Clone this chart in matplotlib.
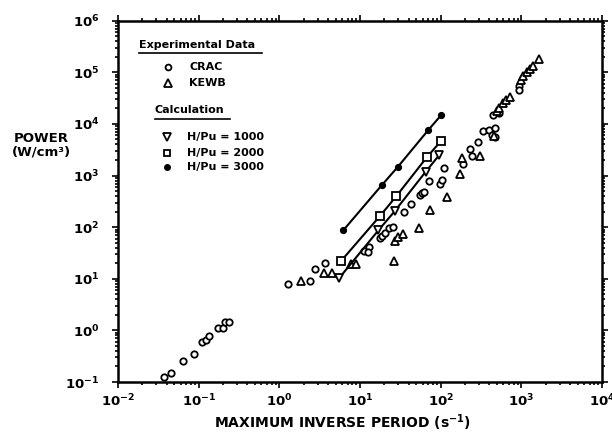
import matplotlib
matplotlib.use("Agg")
import matplotlib.pyplot as plt
from matplotlib.ticker import LogLocator, NullFormatter

plt.rcParams['font.family'] = ['DejaVu Sans']
plt.rcParams['font.weight'] = 'bold'
plt.rcParams['mathtext.default'] = 'bf'

# ---- Experimental data: CRAC (open circles) ----
crac_x = [0.0375, 0.0454, 0.0644, 0.0867, 0.111, 0.122, 0.134, 0.175, 0.202, 0.214, 0.235,
          1.28, 2.43, 2.77, 3.71, 11.2, 12.9, 12.4, 17.7, 18.7, 20.4, 22.9, 25.9,
          35.4, 42.6, 55.4, 58.7, 62.1, 72.6, 98.1, 105, 111,
          187, 228, 243, 292, 337, 397, 471, 427, 471, 449, 528, 935, 944]
crac_y = [0.126, 0.151, 0.258, 0.343, 0.585, 0.649, 0.776, 1.11, 1.12, 1.45, 1.46,
          7.8, 9.2, 15.4, 19.9, 34.4, 41.1, 33.7, 61.5, 67.3, 78.5, 96, 99,
          200, 281, 428, 458, 490, 793, 684, 836, 1416,
          1710, 3335, 2420, 4520, 7350, 7620, 8440, 6090, 5700, 14900, 16500, 54200, 45400]

# ---- Experimental data: KEWB (open triangles) ----
kewb_x = [1.88, 3.61, 4.46, 7.73, 8.85, 26.6, 27.2, 29.6, 34.4, 53.8, 73.3, 120,
          173, 184, 307, 458, 499, 536, 587, 645, 723,
          981, 1057, 1165, 1280, 1383, 1633]
kewb_y = [9.0, 12.7, 13.1, 19.5, 19.5, 22.0, 53.8, 64.3, 73.5, 94.8, 216, 383,
          1094, 2183, 2355, 5960, 17800, 20800, 25100, 29000, 33700,
          71000, 84800, 100000, 114000, 134000, 185000]

# ---- Calculations ----
h1000_x = [5.54, 16.9, 26.8, 65.2, 95.3]
h1000_y = [10.4, 86.7, 202, 1185, 2462]
h2000_x = [5.81, 17.9, 28.3, 67.7, 101]
h2000_y = [22.0, 168, 401, 2285, 4665]
h3000_x = [6.2, 18.7, 29.2, 70.3, 101]
h3000_y = [86.7, 655, 1449, 7620, 14700]

legend_exp = ["CRAC", "KEWB"]
legend_calc = ["H/Pu = 1000", "H/Pu = 2000", "H/Pu = 3000"]

fig = plt.figure(figsize=(6.12, 4.36), dpi=100)
ax = fig.add_axes([118/612, 1-382/436, 484/612, 361.3/436])
ax.set_xscale('log')
ax.set_yscale('log')
ax.set_xlim(1e-2, 1e4)
ax.set_ylim(1e-1, 1e6)

k = 'black'
ax.plot(crac_x, crac_y, 'o', ms=4.6, mfc='white', mec=k, mew=1.3, zorder=3)
ax.plot(kewb_x, kewb_y, '^', ms=5.8, mfc='white', mec=k, mew=1.3, zorder=3)
ax.plot(h1000_x, h1000_y, '-v', color=k, lw=1.5, ms=6.2, mfc='white', mec=k, mew=1.3, zorder=4)
ax.plot(h2000_x, h2000_y, '-s', color=k, lw=1.5, ms=5.3, mfc='white', mec=k, mew=1.3, zorder=4)
ax.plot(h3000_x, h3000_y, '-o', color=k, lw=1.5, ms=4.2, mfc=k, mec=k, zorder=4)

for s in ax.spines.values():
    s.set_linewidth(1.8)

ax.xaxis.set_major_locator(LogLocator(base=10, numticks=20))
ax.yaxis.set_major_locator(LogLocator(base=10, numticks=20))
ax.xaxis.set_minor_locator(LogLocator(base=10, subs=range(2, 10), numticks=20))
ax.yaxis.set_minor_locator(LogLocator(base=10, subs=range(2, 10), numticks=20))
ax.xaxis.set_minor_formatter(NullFormatter())
ax.yaxis.set_minor_formatter(NullFormatter())
ax.tick_params(which='both', direction='out', top=True, right=True, width=1.2)
ax.tick_params(which='major', length=4.5)
ax.tick_params(which='minor', length=2.5, labelbottom=False, labelleft=False)
ax.tick_params(axis='x', which='major', labelsize=9.5, pad=3)
ax.tick_params(axis='y', which='major', labelsize=9.5, pad=9)
ax.xaxis.offsetText.set_visible(False)
ax.yaxis.offsetText.set_visible(False)

fig.text(342/612, 1-423/436, 'MAXIMUM INVERSE PERIOD (s$^{-1}$)', ha='center', va='center',
         fontsize=10, fontweight='bold')
fig.text(41/612, 1-145/436, 'POWER\n(W/cm³)', ha='center', va='center',
         fontsize=9.5, fontweight='bold', linespacing=1.1)

# ---- hand-drawn legend block ----
tA = ax.transAxes
fs = 8
ax.text(0.044, 0.933, 'Experimental Data', transform=tA, fontsize=fs, fontweight='bold', va='center')
ax.plot([0.044, 0.2975], [0.911, 0.911], color=k, lw=1.2, transform=tA, clip_on=False)
ax.plot([0.104], [0.873], 'o', ms=4.2, mfc='white', mec=k, mew=1.3, transform=tA)
ax.text(0.147, 0.873, legend_exp[0], transform=tA, fontsize=fs, fontweight='bold', va='center')
ax.plot([0.104], [0.828], '^', ms=5.3, mfc='white', mec=k, mew=1.3, transform=tA)
ax.text(0.147, 0.828, legend_exp[1], transform=tA, fontsize=fs, fontweight='bold', va='center')

ax.text(0.0764, 0.753, 'Calculation', transform=tA, fontsize=fs, fontweight='bold', va='center')
ax.plot([0.0764, 0.231], [0.728, 0.728], color=k, lw=1.2, transform=tA, clip_on=False)
ax.plot([0.1006], [0.679], 'v', ms=5.5, mfc='white', mec=k, mew=1.3, transform=tA)
ax.text(0.142, 0.679, legend_calc[0], transform=tA, fontsize=fs, fontweight='bold', va='center')
ax.plot([0.1006], [0.635], 's', ms=4.8, mfc='white', mec=k, mew=1.3, transform=tA)
ax.text(0.142, 0.635, legend_calc[1], transform=tA, fontsize=fs, fontweight='bold', va='center')
ax.plot([0.1006], [0.596], 'o', ms=4.0, mfc=k, mec=k, transform=tA)
ax.text(0.142, 0.596, legend_calc[2], transform=tA, fontsize=fs, fontweight='bold', va='center')

fig.savefig('out.png', dpi=100)
